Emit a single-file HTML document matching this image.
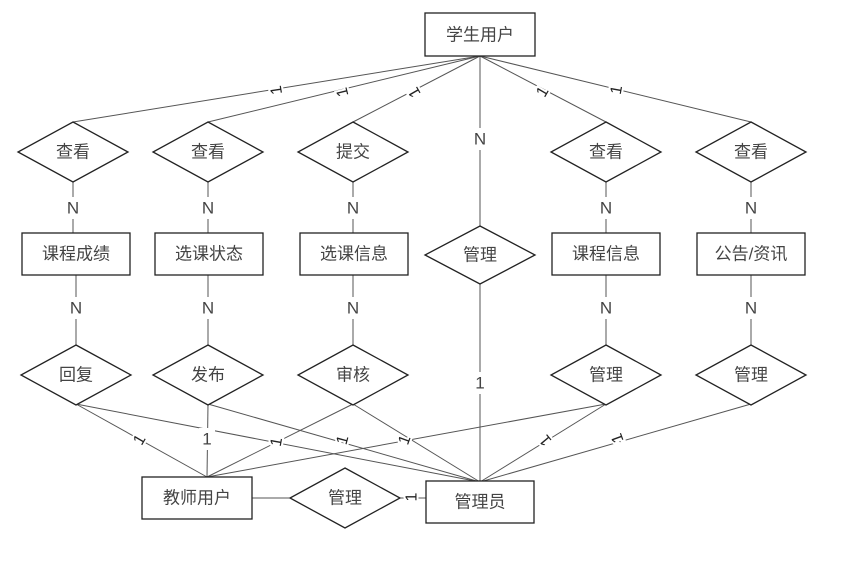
<!DOCTYPE html>
<html><head><meta charset="utf-8"><style>
body{margin:0;background:#fff}
svg{display:block}
text{font-family:"Liberation Sans","Noto Sans CJK SC",sans-serif;fill:#444;font-size:17px;text-anchor:middle;dominant-baseline:central}
.r{fill:#fff;stroke:#222;stroke-width:1.3}
.l{stroke:#555;stroke-width:1;fill:none}
.s text{font-size:16px;fill:#222;stroke:#fff;stroke-width:4px;paint-order:stroke}
</style></head><body>
<svg width="846" height="564" viewBox="0 0 846 564">
<g class="l">
<line x1="480" y1="56" x2="73" y2="122"/>
<line x1="480" y1="56" x2="208" y2="122"/>
<line x1="480" y1="56" x2="353" y2="122"/>
<line x1="480" y1="56" x2="480" y2="226"/>
<line x1="480" y1="56" x2="606" y2="122"/>
<line x1="480" y1="56" x2="751" y2="122"/>
<line x1="73" y1="182" x2="73" y2="233"/>
<line x1="208" y1="182" x2="208" y2="233"/>
<line x1="353" y1="182" x2="353" y2="233"/>
<line x1="606" y1="182" x2="606" y2="233"/>
<line x1="751" y1="182" x2="751" y2="233"/>
<line x1="76" y1="275" x2="76" y2="345"/>
<line x1="208" y1="275" x2="208" y2="345"/>
<line x1="353" y1="275" x2="353" y2="345"/>
<line x1="606" y1="275" x2="606" y2="345"/>
<line x1="751" y1="275" x2="751" y2="345"/>
<line x1="480" y1="283" x2="480" y2="482"/>
<line x1="76" y1="404" x2="207" y2="477"/>
<line x1="76" y1="404" x2="480" y2="482"/>
<line x1="208" y1="404" x2="207" y2="477"/>
<line x1="208" y1="404" x2="480" y2="482"/>
<line x1="353" y1="404" x2="207" y2="477"/>
<line x1="353" y1="404" x2="480" y2="482"/>
<line x1="606" y1="404" x2="207" y2="477"/>
<line x1="606" y1="404" x2="480" y2="482"/>
<line x1="751" y1="404" x2="480" y2="482"/>
<line x1="252" y1="498" x2="290" y2="498"/>
<line x1="400" y1="498" x2="426" y2="498"/>
</g>
<g fill="#fff">
<rect x="470" y="128" width="20" height="22"/>
<rect x="470" y="372" width="20" height="22"/>
<rect x="63" y="197" width="20" height="22"/><rect x="198" y="197" width="20" height="22"/><rect x="343" y="197" width="20" height="22"/><rect x="596" y="197" width="20" height="22"/><rect x="741" y="197" width="20" height="22"/>
<rect x="66" y="297" width="20" height="22"/><rect x="198" y="297" width="20" height="22"/><rect x="343" y="297" width="20" height="22"/><rect x="596" y="297" width="20" height="22"/><rect x="741" y="297" width="20" height="22"/>
<rect x="199" y="428" width="16" height="22"/>
</g>
<text x="480" y="139">N</text>
<text x="480" y="383">1</text>
<text x="73" y="208">N</text><text x="208" y="208">N</text><text x="353" y="208">N</text><text x="606" y="208">N</text><text x="751" y="208">N</text>
<text x="76" y="308">N</text><text x="208" y="308">N</text><text x="353" y="308">N</text><text x="606" y="308">N</text><text x="751" y="308">N</text>
<text x="207" y="439">1</text>
<g class="s">
<text x="277" y="90" transform="rotate(-99 277 90)">1</text>
<text x="343" y="92" transform="rotate(-104 343 92)">1</text>
<text x="415" y="92" transform="rotate(-120 415 92)">1</text>
<text x="543" y="92" transform="rotate(-60 543 92)">1</text>
<text x="617" y="90" transform="rotate(-80 617 90)">1</text>
<text x="140" y="440" transform="rotate(-60 140 440)">1</text>
<text x="277" y="442" transform="rotate(-80 277 442)">1</text>
<text x="343" y="440" transform="rotate(-75 343 440)">1</text>
<text x="405" y="440" transform="rotate(-70 405 440)">1</text>
<text x="546" y="440" transform="rotate(-130 546 440)">1</text>
<text x="618" y="438" transform="rotate(-110 618 438)">1</text>
<text x="412" y="497" transform="rotate(-90 412 497)">1</text>
</g>
<rect class="r" x="425" y="13" width="110" height="43"/><text x="480" y="35">学生用户</text>
<rect class="r" x="22" y="233" width="108" height="42"/><text x="76" y="254">课程成绩</text>
<rect class="r" x="155" y="233" width="108" height="42"/><text x="209" y="254">选课状态</text>
<rect class="r" x="300" y="233" width="108" height="42"/><text x="354" y="254">选课信息</text>
<rect class="r" x="552" y="233" width="108" height="42"/><text x="606" y="254">课程信息</text>
<rect class="r" x="697" y="233" width="108" height="42"/><text x="751" y="254">公告/资讯</text>
<rect class="r" x="142" y="477" width="110" height="42"/><text x="197" y="498">教师用户</text>
<rect class="r" x="426" y="481" width="108" height="42"/><text x="480" y="502">管理员</text>
<g class="r">
<polygon points="73,122 128,152 73,182 18,152"/>
<polygon points="208,122 263,152 208,182 153,152"/>
<polygon points="353,122 408,152 353,182 298,152"/>
<polygon points="606,122 661,152 606,182 551,152"/>
<polygon points="751,122 806,152 751,182 696,152"/>
<polygon points="480,226 535,255 480,284 425,255"/>
<polygon points="76,345 131,375 76,405 21,375"/>
<polygon points="208,345 263,375 208,405 153,375"/>
<polygon points="353,345 408,375 353,405 298,375"/>
<polygon points="606,345 661,375 606,405 551,375"/>
<polygon points="751,345 806,375 751,405 696,375"/>
<polygon points="345,468 400,498 345,528 290,498"/>
</g>
<text x="73" y="152">查看</text><text x="208" y="152">查看</text><text x="353" y="152">提交</text><text x="606" y="152">查看</text><text x="751" y="152">查看</text>
<text x="480" y="255">管理</text>
<text x="76" y="375">回复</text><text x="208" y="375">发布</text><text x="353" y="375">审核</text><text x="606" y="375">管理</text><text x="751" y="375">管理</text>
<text x="345" y="498">管理</text>
</svg>
</body></html>
